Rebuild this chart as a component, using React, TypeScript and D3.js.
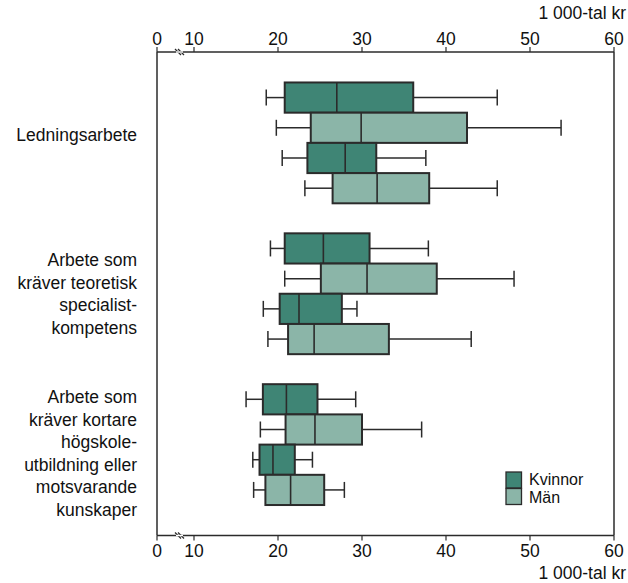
import React from "react";
import * as d3 from "d3";

const groups = [
  ["Ledningsarbete"],
  ["Arbete som", "kräver teoretisk", "specialist-", "kompetens"],
  ["Arbete som", "kräver kortare", "högskole-", "utbildning eller", "motsvarande", "kunskaper"],
];
const seriesNames = ["Kvinnor", "Män"];
// per group: four boxes in order Kvinnor, Män, Kvinnor, Män : [min, q1, median, q3, max]
const boxesG1 = [
  [18.6, 20.8, 27.0, 36.1, 46.1],
  [19.8, 23.9, 29.9, 42.5, 53.7],
  [20.5, 23.5, 28.0, 31.7, 37.6],
  [23.2, 26.5, 31.8, 38.0, 46.1],
];
const boxesG2 = [
  [19.1, 20.8, 25.4, 30.9, 37.9],
  [20.8, 25.1, 30.6, 38.9, 48.1],
  [18.25, 20.2, 22.5, 27.6, 29.4],
  [18.8, 21.2, 24.3, 33.2, 43.0],
];
const boxesG3 = [
  [16.2, 18.2, 21.0, 24.7, 29.25],
  [17.9, 20.9, 24.4, 30.0, 37.1],
  [17.0, 17.8, 19.4, 22.0, 24.1],
  [17.1, 18.5, 21.5, 25.5, 27.9],
];
const boxSeries = [0, 1, 0, 1];
const tickValues = [0, 10, 20, 30, 40, 50, 60];
const axisUnit = "1 000-tal kr";

const allBoxes = [boxesG1, boxesG2, boxesG3];
const colors = ["#3f8575", "#8bb5a8"];
const labelShift = [-8, 0, 9];

export default function App() {
  const W = 628, H = 583;
  const left = 157, right = 614, top = 52, bottom = 535.5;
  const x = d3.scaleLinear().domain([10, 60]).range([194, right]);
  const xp = (v: number) => (v === 0 ? left : x(v));
  const y = d3
    .scaleBand<number>()
    .domain([0, 1, 2])
    .range([top, bottom])
    .paddingInner(0.199)
    .paddingOuter(0.202);
  const fs = 17.5;
  const lh = 22.5;
  const font = "Liberation Sans, Arial, Helvetica, sans-serif";
  const stroke = "#2b2b2b";

  const breakMark = (yy: number) => {
    const cx = 180;
    return (
      <g>
        <line x1={cx - 5} y1={yy - 3} x2={cx + 1} y2={yy + 3} stroke={stroke} strokeWidth={1.2} />
        <line x1={cx - 2} y1={yy - 3} x2={cx + 4} y2={yy + 3} stroke={stroke} strokeWidth={1.2} />
        <line x1={cx - 4} y1={yy} x2={cx + 3} y2={yy} stroke="#fff" strokeWidth={1.4} />
      </g>
    );
  };

  return (
    <svg width={W} height={H} style={{ position: "absolute", left: 0, top: 0 }} fontFamily={font}>
      <rect width={W} height={H} fill="#fff" />
      <line x1={left} x2={left} y1={top} y2={bottom} stroke={stroke} strokeWidth={1.5} />
      <line x1={right} x2={right} y1={top} y2={bottom} stroke={stroke} strokeWidth={1.5} />
      <line x1={left} x2={right} y1={top} y2={top} stroke={stroke} strokeWidth={1.5} />
      <line x1={left} x2={right} y1={bottom} y2={bottom} stroke={stroke} strokeWidth={1.5} />
      {breakMark(top)}
      {breakMark(bottom)}
      {tickValues.map((t) => (
        <g key={t}>
          <line x1={xp(t)} x2={xp(t)} y1={top} y2={top - 5} stroke={stroke} strokeWidth={1.2} />
          <line x1={xp(t)} x2={xp(t)} y1={bottom} y2={bottom + 5} stroke={stroke} strokeWidth={1.2} />
          <text x={xp(t)} y={45} textAnchor="middle" fontSize={fs} fill="#111">{t}</text>
          <text x={xp(t)} y={557} textAnchor="middle" fontSize={fs} fill="#111">{t}</text>
        </g>
      ))}
      <text x={626} y={19} textAnchor="end" fontSize={fs} fill="#111">{axisUnit}</text>
      <text x={626} y={579} textAnchor="end" fontSize={fs} fill="#111">{axisUnit}</text>

      {allBoxes.map((boxes, gi) => {
        const y0 = y(gi)!;
        const bh = y.bandwidth() / 4;
        const c = y0 + y.bandwidth() / 2;
        const lines = groups[gi];
        const first = c - ((lines.length - 1) / 2) * lh + 6 + labelShift[gi];
        return (
          <g key={gi}>
            {lines.map((ln, li) => (
              <text key={li} x={137} y={first + li * lh} textAnchor="end" fontSize={fs} fill="#111">{ln}</text>
            ))}
            {boxes.map((b, bi) => {
              const [mn, q1, md, q3, mx] = b;
              const by = y0 + bi * bh;
              const cy = by + bh / 2;
              return (
                <g key={bi}>
                  <line x1={x(mn)} x2={x(q1)} y1={cy} y2={cy} stroke={stroke} strokeWidth={1.5} />
                  <line x1={x(q3)} x2={x(mx)} y1={cy} y2={cy} stroke={stroke} strokeWidth={1.5} />
                  <line x1={x(mn)} x2={x(mn)} y1={cy - 8} y2={cy + 8} stroke={stroke} strokeWidth={1.5} />
                  <line x1={x(mx)} x2={x(mx)} y1={cy - 8} y2={cy + 8} stroke={stroke} strokeWidth={1.5} />
                  <rect x={x(q1)} y={by} width={x(q3) - x(q1)} height={bh} fill={colors[boxSeries[bi]]} stroke={stroke} strokeWidth={2} />
                  <line x1={x(md)} x2={x(md)} y1={by} y2={by + bh} stroke={stroke} strokeWidth={1.6} />
                </g>
              );
            })}
          </g>
        );
      })}

      {seriesNames.map((s, i) => (
        <g key={s}>
          <rect x={506} y={472 + i * 16.5} width={15.5} height={16} fill={colors[i]} stroke={stroke} strokeWidth={1.3} />
          <text x={529} y={485 + i * 18} fontSize={16} fill="#111">{s}</text>
        </g>
      ))}
    </svg>
  );
}
